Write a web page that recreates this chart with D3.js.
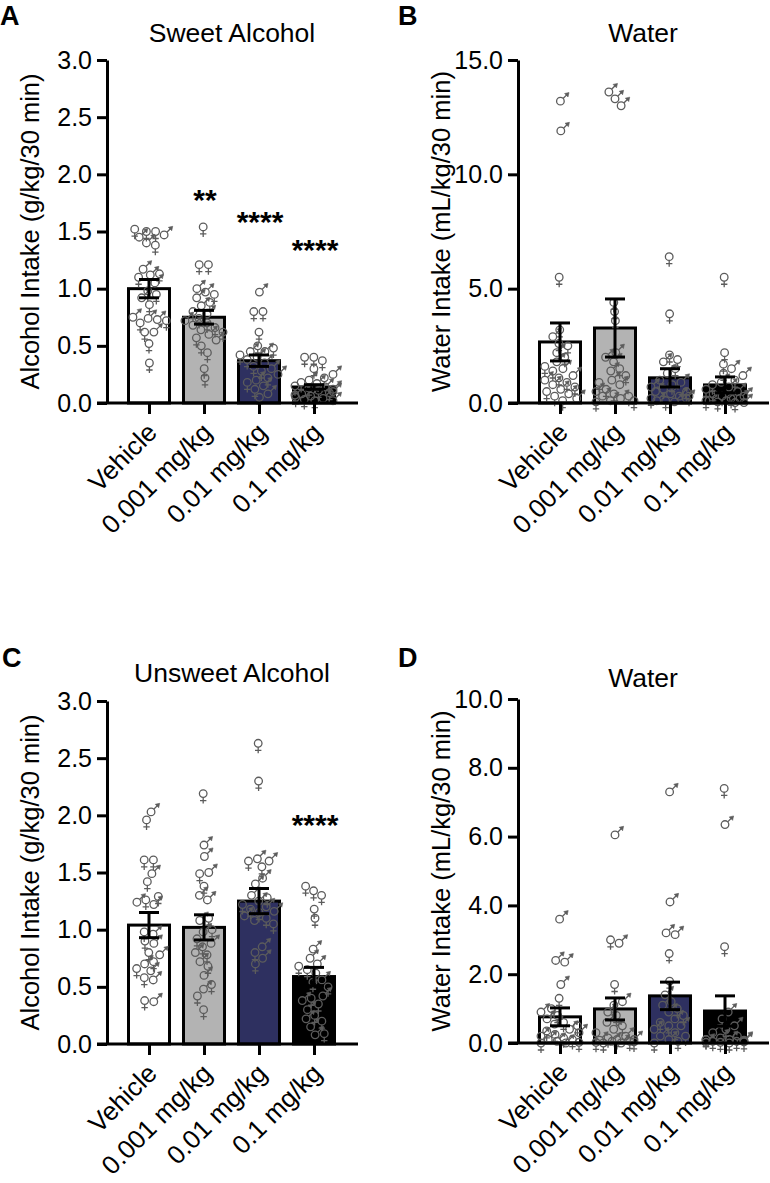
<!DOCTYPE html>
<html>
<head>
<meta charset="utf-8">
<script src="https://cdn.jsdelivr.net/npm/d3@7"></script>
<style>
  body { margin: 0; background: #fff; }
  svg text { font-family: "Liberation Sans", Arial, sans-serif; fill: #000; }
</style>
</head>
<body>
<div id="chart"></div>
<script>
// groups + bar colours
var groups = ["Vehicle", "0.001 mg/kg", "0.01 mg/kg", "0.1 mg/kg"];
var barFills = ["#ffffff", "#b3b3b3", "#2e3060", "#000000"];

// A: sweet alcohol (g/kg/30 min)
var sweetAlcMean = [1.00, 0.75, 0.37, 0.14];
var sweetAlcSem = [0.08, 0.06, 0.05, 0.02];
var sweetAlcFemale = [
  [1.52, 1.50, 1.50, 1.38, 1.13, 1.10, 0.98, 0.95, 0.86, 0.72, 0.70, 0.62, 0.52, 0.35],
  [1.54, 1.21, 1.21, 0.95, 0.88, 0.80, 0.74, 0.70, 0.66, 0.62, 0.57, 0.50, 0.44, 0.30, 0.22],
  [0.80, 0.80, 0.62, 0.50, 0.48, 0.42, 0.38, 0.32, 0.28, 0.22, 0.18, 0.12, 0.05],
  [0.40, 0.40, 0.37, 0.30, 0.22, 0.18, 0.15, 0.13, 0.11, 0.09, 0.07, 0.05, 0.03, 0.02]
];
var sweetAlcMale = [
  [1.47, 1.45, 1.40, 1.17, 1.12, 1.05, 0.92, 0.75, 0.74, 0.73, 0.62],
  [1.00, 0.97, 0.92, 0.85, 0.78, 0.72, 0.68, 0.64, 0.60, 0.55],
  [0.97, 0.45, 0.45, 0.40, 0.35, 0.30, 0.25, 0.20, 0.15, 0.08],
  [0.25, 0.20, 0.17, 0.14, 0.12, 0.10, 0.08, 0.06, 0.04, 0.02]
];
var sweetAlcStars = ["", "**", "****", "****"];
var sweetAlcStarAt = [null, 1.84, 1.64, 1.40];

// B: water with sweet alcohol (mL/kg/30 min)
var sweetWatMean = [2.67, 3.28, 1.10, 0.79];
var sweetWatSem = [0.83, 1.27, 0.40, 0.35];
var sweetWatFemale = [
  [5.5, 3.2, 2.6, 2.5, 2.0, 1.6, 1.4, 1.1, 0.9, 0.7, 0.5, 0.3, 0.1],
  [4.4, 4.0, 3.6, 1.5, 1.2, 0.9, 0.6, 0.4, 0.3, 0.1, 0.05],
  [6.4, 3.9, 2.1, 1.9, 1.5, 1.0, 0.8, 0.6, 0.5, 0.3, 0.2, 0.1],
  [5.5, 2.2, 1.7, 1.3, 1.0, 0.8, 0.6, 0.4, 0.3, 0.2, 0.1, 0.05, 0.02]
];
var sweetWatMale = [
  [13.2, 11.9, 2.9, 2.2, 1.8, 1.5, 1.2, 1.0, 0.8, 0.6, 0.4, 0.2],
  [13.6, 13.3, 13.0, 2.2, 2.0, 1.8, 1.4, 1.0, 0.8, 0.5, 0.3, 0.2, 0.1],
  [1.8, 1.3, 0.9, 0.7, 0.5, 0.4, 0.3, 0.2, 0.1, 0.05],
  [1.5, 1.2, 0.9, 0.7, 0.5, 0.3, 0.2, 0.1, 0.1, 0.02]
];

// C: unsweet alcohol (g/kg/30 min)
var plainAlcMean = [1.04, 1.02, 1.25, 0.59];
var plainAlcSem = [0.11, 0.11, 0.11, 0.08];
var plainAlcFemale = [
  [1.96, 1.61, 1.61, 1.42, 1.29, 1.26, 0.98, 0.90, 0.80, 0.72, 0.66, 0.58, 0.38],
  [2.19, 1.49, 1.38, 1.10, 1.00, 0.92, 0.85, 0.78, 0.68, 0.52, 0.42, 0.30],
  [2.63, 2.30, 1.60, 1.55, 1.28, 1.22, 1.18, 1.15, 1.10, 1.05, 0.80, 0.70],
  [1.38, 1.34, 1.30, 1.18, 1.10, 0.68, 0.65, 0.62, 0.54, 0.50, 0.40, 0.35, 0.25, 0.20, 0.09]
];
var plainAlcMale = [
  [2.03, 1.49, 1.24, 1.22, 0.96, 0.88, 0.78, 0.70, 0.64, 0.56, 0.37],
  [1.74, 1.64, 1.50, 1.30, 1.26, 1.08, 0.98, 0.88, 0.80, 0.72, 0.60, 0.48],
  [1.62, 1.60, 1.45, 1.40, 1.30, 1.25, 1.20, 1.16, 1.12, 1.08, 0.85, 0.75],
  [0.83, 0.75, 0.70, 0.56, 0.42, 0.38, 0.30, 0.22, 0.15, 0.08]
];
var plainAlcStars = ["", "", "", "****"];
var plainAlcStarAt = [null, null, null, 1.98];

// D: water with unsweet alcohol (mL/kg/30 min)
var plainWatMean = [0.76, 0.99, 1.37, 0.93];
var plainWatSem = [0.26, 0.32, 0.40, 0.44];
var plainWatFemale = [
  [1.3, 1.0, 0.8, 0.6, 0.5, 0.35, 0.25, 0.15, 0.1, 0.02, 0.0],
  [3.0, 1.7, 1.1, 0.8, 0.5, 0.3, 0.15, 0.1, 0.05, 0.03, 0.02, 0.0],
  [2.6, 1.8, 1.2, 1.0, 0.8, 0.6, 0.5, 0.3, 0.2, 0.05, 0.0],
  [7.4, 2.8, 0.7, 0.4, 0.2, 0.1, 0.1, 0.05, 0.05, 0.03, 0.02, 0.0]
];
var plainWatMale = [
  [3.6, 2.4, 2.35, 1.7, 0.9, 0.7, 0.55, 0.4, 0.3, 0.2, 0.1, 0.05, 0.0],
  [6.05, 2.9, 1.2, 0.9, 0.6, 0.4, 0.2, 0.1, 0.08, 0.05, 0.0],
  [7.3, 4.1, 3.2, 3.15, 1.4, 1.1, 0.9, 0.7, 0.5, 0.4, 0.2, 0.1],
  [6.35, 0.9, 0.5, 0.3, 0.15, 0.1, 0.08, 0.05, 0.02]
];

var svg = d3.select("#chart").append("svg").attr("width", 770).attr("height", 1183);

var femalePath = "M0,3.8V10M-3.2,7H3.2";
var malePath = "M2.7,-2.7L7,-7";
var maleHead = "M8.6,-8.6L4.2,-7.6L7.6,-4.2Z";

function drawPanel(p) {
  var g = svg.append("g");
  var y = d3.scaleLinear().domain([0, p.yMax]).range([p.bottom, p.top]);
  var x = d3.scalePoint().domain(groups).range([p.axisX + 42, p.axisX + 207]);

  // panel letter + title
  g.append("text").attr("x", p.letterX).attr("y", p.letterY)
    .style("font-size", "27px").style("font-weight", "bold").text(p.letter);
  g.append("text").attr("x", p.axisX + 125).attr("y", p.titleY)
    .attr("text-anchor", "middle").style("font-size", "26.5px").text(p.title);

  // y title
  g.append("text")
    .attr("transform", "translate(" + (p.axisX - 68) + "," + ((p.top + p.bottom) / 2) + ") rotate(-90)")
    .attr("text-anchor", "middle").style("font-size", "25.5px").text(p.yLabel);

  // bars
  g.selectAll("rect.bar").data(p.mean).enter().append("rect")
    .attr("x", function(d, i) { return x(groups[i]) - 20.5; })
    .attr("y", function(d) { return y(d); })
    .attr("width", 41)
    .attr("height", function(d) { return p.bottom - y(d); })
    .attr("fill", function(d, i) { return barFills[i]; })
    .attr("stroke", "#000").attr("stroke-width", 3);

  // points, spread sideways with a collide force
  groups.forEach(function(grp, i) {
    var cx = x(grp);
    var nodes = p.female[i].map(function(v) { return { v: v, s: "F" }; })
      .concat(p.male[i].map(function(v) { return { v: v, s: "M" }; }));
    nodes.forEach(function(n, k) { n.fy = y(n.v); n.x = cx + ((k % 5) - 2) * 3; });
    var sim = d3.forceSimulation(nodes)
      .force("x", d3.forceX(cx).strength(0.03))
      .force("collide", d3.forceCollide(4.6).strength(0.8).iterations(4))
      .stop();
    for (var t = 0; t < 200; t++) {
      sim.tick();
      nodes.forEach(function(n) { n.x = Math.max(cx - 19, Math.min(cx + 19, n.x)); });
    }
    var pt = g.selectAll("g.pt" + i).data(nodes).enter().append("g")
      .attr("transform", function(d) { return "translate(" + d.x + "," + d.fy + ")"; })
      .attr("stroke", "#5c5c5c").attr("stroke-width", 1.3).attr("fill", "none");
    pt.append("circle").attr("r", 3.8);
    pt.append("path").attr("d", function(d) { return d.s === "F" ? femalePath : malePath; });
    pt.filter(function(d) { return d.s === "M"; }).append("path")
      .attr("d", maleHead).attr("fill", "#5c5c5c").attr("stroke-width", 0.6);
  });

  // error bars
  p.mean.forEach(function(m, i) {
    var cx = x(groups[i]), hi = y(m + p.sem[i]), lo = y(Math.max(0, m - p.sem[i]));
    var eb = g.append("g").attr("stroke", "#000").attr("stroke-width", 3);
    eb.append("line").attr("x1", cx).attr("x2", cx).attr("y1", hi).attr("y2", lo);
    eb.append("line").attr("x1", cx - 10).attr("x2", cx + 10).attr("y1", hi).attr("y2", hi);
    eb.append("line").attr("x1", cx - 10).attr("x2", cx + 10).attr("y1", lo).attr("y2", lo);
  });

  // stars
  if (p.stars) {
    p.stars.forEach(function(s, i) {
      if (!s) return;
      g.append("text").attr("x", x(groups[i]) + 1).attr("y", y(p.starAt[i]) + 17)
        .attr("text-anchor", "middle").style("font-size", "30px").style("font-weight", "bold").text(s);
    });
  }

  // y axis
  var ya = g.append("g").attr("transform", "translate(" + p.axisX + ",0)")
    .call(d3.axisLeft(y).tickValues(d3.range(0, p.yMax + 1e-9, p.yStep))
      .tickFormat(d3.format(".1f")).tickSize(10).tickSizeOuter(0).tickPadding(5));
  ya.select(".domain").attr("stroke-width", 3);
  ya.selectAll(".tick line").attr("stroke-width", 3);
  ya.selectAll(".tick text").style("font-size", "25px").attr("font-family", null);

  // x axis
  g.append("line").attr("x1", p.axisX - 10).attr("x2", p.axisX + 251)
    .attr("y1", p.bottom).attr("y2", p.bottom).attr("stroke", "#000").attr("stroke-width", 3);
  var xa = g.append("g").attr("transform", "translate(0," + p.bottom + ")")
    .call(d3.axisBottom(x).tickSize(11).tickSizeOuter(0).tickPadding(0));
  xa.select(".domain").remove();
  xa.selectAll(".tick line").attr("stroke-width", 3);
  xa.selectAll(".tick text")
    .style("font-size", "26px").attr("font-family", null)
    .attr("text-anchor", "end").attr("dy", null).attr("y", null)
    .attr("transform", "translate(9,31) rotate(-45)");
}

drawPanel({ axisX: 107, top: 60, bottom: 403, yMax: 3, yStep: 0.5,
  mean: sweetAlcMean, sem: sweetAlcSem, female: sweetAlcFemale, male: sweetAlcMale,
  stars: sweetAlcStars, starAt: sweetAlcStarAt,
  letter: "A", letterX: 0, letterY: 25, title: "Sweet Alcohol", titleY: 42,
  yLabel: "Alcohol Intake (g/kg/30 min)" });

drawPanel({ axisX: 518, top: 60, bottom: 403, yMax: 15, yStep: 5,
  mean: sweetWatMean, sem: sweetWatSem, female: sweetWatFemale, male: sweetWatMale,
  letter: "B", letterX: 398, letterY: 25, title: "Water", titleY: 42,
  yLabel: "Water Intake (mL/kg/30 min)" });

drawPanel({ axisX: 107, top: 701, bottom: 1044, yMax: 3, yStep: 0.5,
  mean: plainAlcMean, sem: plainAlcSem, female: plainAlcFemale, male: plainAlcMale,
  stars: plainAlcStars, starAt: plainAlcStarAt,
  letter: "C", letterX: 2, letterY: 667, title: "Unsweet Alcohol", titleY: 682,
  yLabel: "Alcohol Intake (g/kg/30 min)" });

drawPanel({ axisX: 518, top: 699, bottom: 1043, yMax: 10, yStep: 2,
  mean: plainWatMean, sem: plainWatSem, female: plainWatFemale, male: plainWatMale,
  letter: "D", letterX: 398, letterY: 667, title: "Water", titleY: 687,
  yLabel: "Water Intake (mL/kg/30 min)" });
</script>
</body>
</html>
